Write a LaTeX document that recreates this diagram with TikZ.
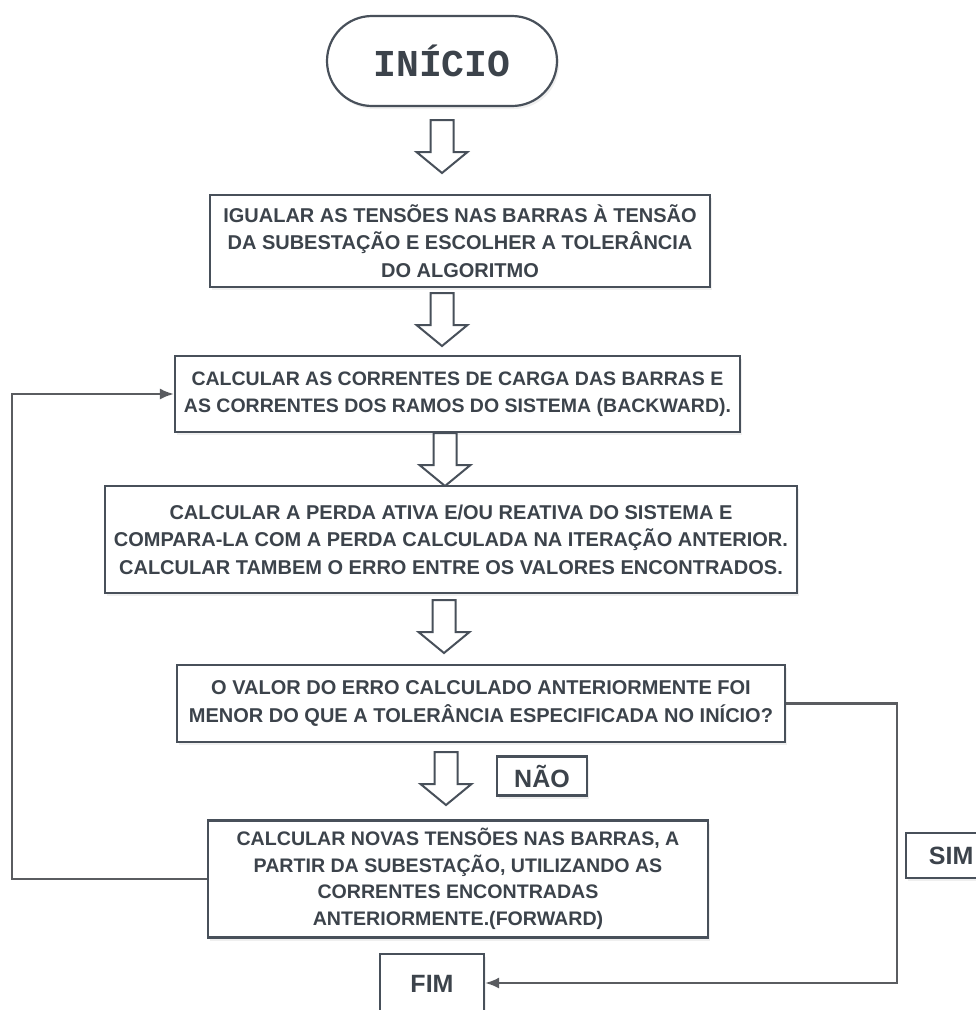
\documentclass[tikz,border=0pt]{standalone}
\usepackage{fontspec}
\setmainfont{Liberation Sans}
\newfontfamily\monofnt{Liberation Mono}
\usetikzlibrary{shadows,arrows.meta}
\definecolor{edge}{HTML}{48505A}
\definecolor{txt}{HTML}{3C434B}
\definecolor{wire}{HTML}{5A5C60}
\tikzset{
  box/.style={draw=edge, line width=2.2pt, fill=white, inner sep=0pt, align=center,
    text=txt, font=\bfseries\fontsize{20}{27.5}\selectfont,
    drop shadow={opacity=0.12, shadow xshift=2pt, shadow yshift=-3pt}},
  lbl/.style={box, font=\bfseries\fontsize{25}{30}\selectfont},
  conn/.style={draw=wire, line width=2.2pt},
  tip/.style={-{Latex[length=14pt,width=11pt]}},
  blockarrow/.pic={\draw[draw=edge, line width=2pt, fill=white, line join=miter]
    (-11.5,0) -- (11.5,0) -- (11.5,32) -- (25.5,32) -- (0,53) -- (-25.5,32) -- (-11.5,32) -- cycle;}
}
\begin{document}
\begin{tikzpicture}[x=1pt,y=-1pt]
\useasboundingbox[fill=white] (0,0) rectangle (976,1010);

\node[box, rounded corners=45pt, minimum width=230pt, minimum height=90pt,
  font=\monofnt\bfseries\fontsize{38}{40}\selectfont] (inicio) at (442,61) {INÍCIO};

\pic at (442,120) {blockarrow};

\node[box, minimum width=500pt, minimum height=92pt] (b2) at (460,241)
  {IGUALAR AS TENSÕES NAS BARRAS À TENSÃO\\DA SUBESTAÇÃO E ESCOLHER A TOLERÂNCIA\\DO ALGORITMO};

\pic at (442,293) {blockarrow};

\node[box, minimum width=565pt, minimum height=76pt, font=\bfseries\fontsize{19.5}{27.5}\selectfont] (b3) at (457.5,394)
  {CALCULAR AS CORRENTES DE CARGA DAS BARRAS E\\AS CORRENTES DOS RAMOS DO SISTEMA (BACKWARD).};

\pic at (445,433) {blockarrow};

\node[box, minimum width=692pt, minimum height=107pt] (b4) at (451,539.5)
  {CALCULAR A PERDA ATIVA E/OU REATIVA DO SISTEMA E\\COMPARA-LA COM A PERDA CALCULADA NA ITERAÇÃO ANTERIOR.\\CALCULAR TAMBEM O ERRO ENTRE OS VALORES ENCONTRADOS.};

\pic at (444,600) {blockarrow};

\node[box, minimum width=608pt, minimum height=77pt] (b5) at (481,703.5)
  {O VALOR DO ERRO CALCULADO ANTERIORMENTE FOI\\MENOR DO QUE A TOLERÂNCIA ESPECIFICADA NO INÍCIO?};

\pic at (446,752) {blockarrow};

\node[lbl, minimum width=90pt, minimum height=39pt] (nao) at (542,776) {NÃO};

\node[box, minimum width=500pt, minimum height=117pt, font=\bfseries\fontsize{19.6}{26.5}\selectfont] (b6) at (458,879)
  {CALCULAR NOVAS TENSÕES NAS BARRAS, A\\PARTIR DA SUBESTAÇÃO, UTILIZANDO AS\\CORRENTES ENCONTRADAS\\ANTERIORMENTE.(FORWARD)};

\node[lbl, minimum width=104pt, minimum height=60pt, anchor=north] (fim) at (432,953) {FIM};
\node[lbl, minimum width=90pt, minimum height=45pt, anchor=west] (sim) at (905,855.5) {SIM};

\coordinate (loopx) at (12,0);
\coordinate (simx) at (897,0);
\draw[conn, tip] (b6.west) -| (loopx |- b3.west) -- (b3.west);
\draw[conn, tip] (b5.east) -| (simx |- 0,983) -- (fim.east |- 0,983);
\end{tikzpicture}
\end{document}
